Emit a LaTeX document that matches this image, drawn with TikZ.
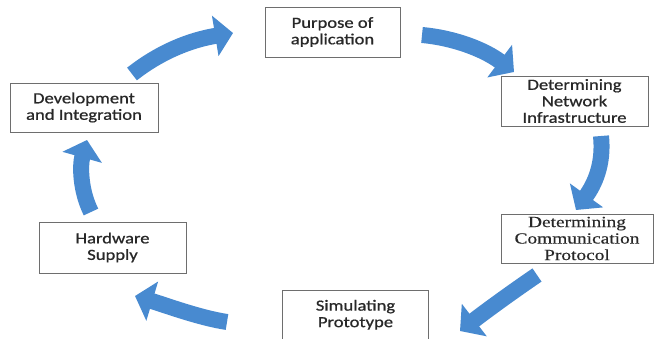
\documentclass[tikz,border=0pt]{standalone}
\usepackage{fontspec}
\setmainfont{Carlito}
\newfontfamily\boxfont[FakeStretch=1.2,FakeBold=0.8]{Carlito}
\newfontfamily\serifbox[FakeStretch=1.25,FakeBold=0.4]{Liberation Serif}
\usetikzlibrary{arrows.meta}
\definecolor{arrowblue}{RGB}{72,138,208}
\definecolor{boxline}{RGB}{110,110,110}
\definecolor{boxtext}{RGB}{40,40,40}
\begin{document}
\begin{tikzpicture}[x=1pt,y=-1pt,
	box/.style={draw=boxline, line width=0.8pt, fill=white, align=center, text=boxtext,
		inner sep=0pt, font=\boxfont\fontsize{15.5}{16.5}\selectfont},
	flow/.style={draw=arrowblue, line width=16pt, -{Triangle[length=18pt,width=40pt]}}]
	\useasboundingbox (0,0) rectangle (658,339);
	\node (pur) [box, minimum width=135pt, minimum height=50pt] at (332.5,32) {Purpose of\\application};
	\node (net) [box, minimum width=147pt, minimum height=50pt] at (574.5,101) {Determining\\Network\\Infrastructure};
	\node (com) [box, minimum width=152pt, minimum height=49pt, font=\serifbox\fontsize{15.5}{16.5}\selectfont] at (577,238.5) {Determining\\Communication\\Protocol};
	\node (sim) [box, minimum width=146pt, minimum height=49.5pt] at (355.5,314.75) {Simulating\\Prototype};
	\node (hw) [box, minimum width=147pt, minimum height=51pt] at (112.5,247.5) {Hardware\\Supply};
	\node (dev) [box, minimum width=148pt, minimum height=49pt] at (84,107.5) {Development\\and Integration};
	% free ends of the curved arrows
	\coordinate (t1) at (132,74);  \coordinate (h1) at (233,33);
	\coordinate (t2) at (422,35);  \coordinate (h2) at (514,72);
	\coordinate (t3) at (601,136); \coordinate (h3) at (576,210);
	\coordinate (t4) at (537,275); \coordinate (h4) at (460,331);
	\coordinate (t5) at (227,322); \coordinate (h5) at (135,296);
	\coordinate (t6) at (91,212);  \coordinate (h6) at (87,140);
	\draw[flow] (t1) .. controls (160,52) and (190,40) .. (h1);
	\draw[flow] (t2) .. controls (455,38) and (485,50) .. (h2);
	\draw[flow] (t3) .. controls (604,165) and (594,185) .. (h3);
	\draw[flow] (t4) .. controls (515,290) and (490,308) .. (h4);
	\draw[flow] (t5) .. controls (200,318) and (165,305) .. (h5);
	\draw[flow] (t6) .. controls (80,190) and (80,165) .. (h6);
\end{tikzpicture}
\end{document}
